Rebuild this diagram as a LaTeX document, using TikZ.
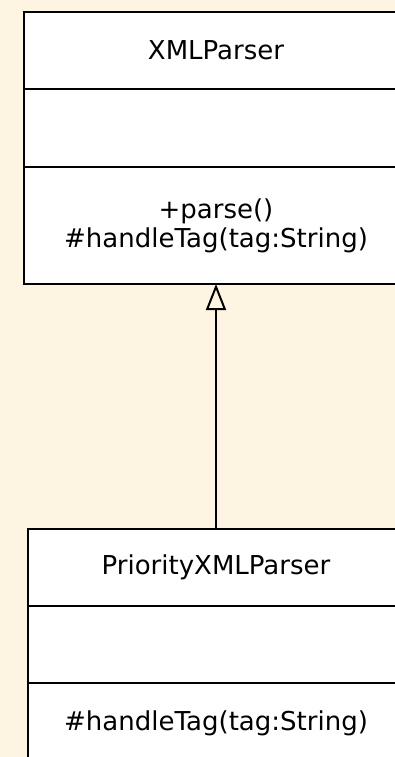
\documentclass[tikz,border=0pt]{standalone}
\usepackage{fontspec}
\setmainfont{DejaVu Sans}
\usetikzlibrary{positioning,arrows.meta}
\definecolor{paper}{RGB}{253,245,226}

\begin{document}
\begin{tikzpicture}[x=1pt,y=-1pt,
			part/.style={draw, line width=2pt, fill=white, outer sep=0pt, inner sep=0pt,
				minimum width=384pt, align=center,
				font=\fontsize{26}{29}\selectfont},
			subpart/.style={part, minimum width=376pt},
			extends/.style={line width=2pt, -{Triangle[open, width=20pt, length=26pt, line width=2pt]}}]
			% page and background
			\useasboundingbox (0,0) rectangle (395,757);
			\fill[paper] (0,0) rectangle (395,757);
			\clip (0,0) rectangle (395,757);
			% base class
			\node[part, minimum height=77pt, anchor=north] (xmlName) at (216,12) {XMLParser};
			\node[part, minimum height=78pt, below=0pt of xmlName] (xmlAttr) {};
			\node[part, minimum height=117pt, below=0pt of xmlAttr] (xmlOps) {+parse()\\\#handleTag(tag:String)};
			% derived class
			\node[subpart, minimum height=77pt, anchor=north] (prioName) at (216,529) {PriorityXMLParser};
			\node[subpart, minimum height=77pt, below=0pt of prioName] (prioAttr) {};
			\node[subpart, minimum height=80pt, below=0pt of prioAttr] (prioOps) {\#handleTag(tag:String)};
			% generalization
			\draw[extends] (prioName.north) -- (xmlOps.south);
			\end{tikzpicture}
\end{document}
